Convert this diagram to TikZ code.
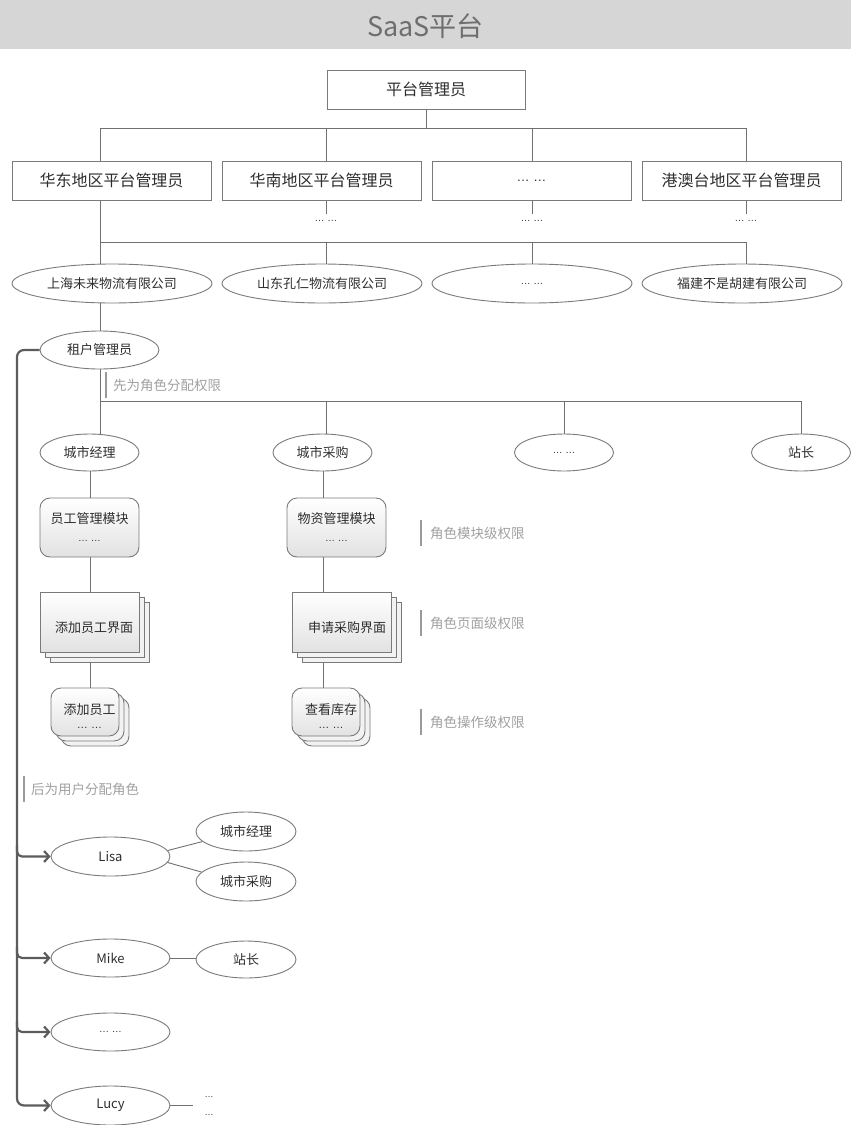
\documentclass[tikz,border=0pt]{standalone}
\usepackage{fontspec}
\setmainfont{Noto Sans CJK SC}
\newfontfamily\dotf{Liberation Sans}
\usetikzlibrary{shapes.geometric,arrows.meta}
\definecolor{hdr}{HTML}{D6D6D6}
\definecolor{ttl}{HTML}{6E6E6E}
\definecolor{linec}{HTML}{707070}
\definecolor{boxc}{HTML}{7A7A7A}
\definecolor{notec}{HTML}{A0A0A0}
\definecolor{barc}{HTML}{9A9A9A}
\definecolor{arrc}{HTML}{5C5C5C}
\definecolor{txtc}{HTML}{2E2E2E}
\definecolor{shd}{HTML}{E2E2E2}
\definecolor{backc}{HTML}{F2F2F2}
\newcommand{\fs}[1]{\fontsize{#1}{#1}\selectfont}
\newcommand{\dts}[1]{{\dotf\fontsize{#1}{#1}\selectfont … …}}
\tikzset{
  conn/.style={draw=linec, line width=0.9pt},
  rbox/.style={rectangle, draw=boxc, line width=1pt, minimum width=199pt, minimum height=39pt, inner sep=0pt, text=txtc, font=\fs{16}},
  ell/.style={ellipse, draw=boxc, line width=0.9pt, inner sep=0pt, text=txtc, font=\fs{13}},
  modbox/.style={rectangle, rounded corners=10pt, draw=boxc, line width=0.9pt, top color=white, bottom color=shd, minimum width=99pt, minimum height=59pt, inner sep=0pt},
  pagebox/.style={rectangle, draw=boxc, line width=0.9pt, top color=white, bottom color=shd, minimum width=99pt, minimum height=60pt, inner sep=0pt},
  opbox/.style={rectangle, rounded corners=10pt, draw=boxc, line width=0.9pt, top color=white, bottom color=shd, minimum width=68pt, minimum height=48pt, inner sep=0pt},
  backbox/.style={draw=boxc, line width=0.9pt, fill=backc},
  lbl/.style={text=txtc, font=\fs{13}, inner sep=0pt},
  note/.style={text=notec, font=\fs{13.5}, anchor=west, inner sep=0pt},
  bar/.style={draw=barc, line width=2pt},
  arrowline/.style={draw=arrc, line width=2.2pt, -{Straight Barb[length=5pt,width=11pt]}},
}
\begin{document}
\begin{tikzpicture}[x=1pt,y=-1pt]
\useasboundingbox (0,0) rectangle (851,1125);
\fill[hdr] (0,0) rectangle (851,49);
\node[text=ttl, font=\fs{27}, inner sep=0pt] (title) at (425.5,26) {SaaS平台};

% top level
\node[rbox, minimum width=198pt] (top) at (426,89.5) {平台管理员};
\node[rbox] (b1) at (111.5,180.5) {华东地区平台管理员};
\node[rbox] (b2) at (321.5,180.5) {华南地区平台管理员};
\node[rbox] (b3) at (531.5,180.5) {\dts{13}};
\node[rbox] (b4) at (741.5,180.5) {港澳台地区平台管理员};

\coordinate (x100) at (100,0);
\coordinate (x326) at (326,0);
\coordinate (x532) at (532,0);
\coordinate (x746) at (746,0);
\coordinate (x323) at (323,0);
\coordinate (x90) at (90,0);

\coordinate (busA) at (426,128);
\draw[conn] (top.south) -- (busA);
\draw[conn] (100,128) -- (746,128);
\draw[conn] (100,128) -- (b1.north -| x100);
\draw[conn] (326,128) -- (b2.north -| x326);
\draw[conn] (532,128) -- (b3.north -| x532);
\draw[conn] (746,128) -- (b4.north -| x746);

% dots under boxes
\node[lbl] (d2) at (326,221) {\dts{10}};
\node[lbl] (d3) at (532,221) {\dts{10}};
\node[lbl] (d4) at (746,221) {\dts{10}};
\draw[conn] (b2.south -| x326) -- (326,214);
\draw[conn] (b3.south -| x532) -- (532,214);
\draw[conn] (b4.south -| x746) -- (746,214);

% companies
\node[ell, minimum width=200pt, minimum height=39pt] (e1) at (112,283.5) {上海未来物流有限公司};
\node[ell, minimum width=200pt, minimum height=39pt] (e2) at (322,283.5) {山东孔仁物流有限公司};
\node[ell, minimum width=200pt, minimum height=39pt] (e3) at (532,283.5) {\dts{10}};
\node[ell, minimum width=200pt, minimum height=39pt] (e4) at (742,283.5) {福建不是胡建有限公司};
\draw[conn] (b1.south -| x100) -- (100,242);
\draw[conn] (100,242) -- (746,242);
\draw[conn] (100,242) -- (e1.north -| x100);
\draw[conn] (326,242) -- (e2.north -| x326);
\draw[conn] (532,242) -- (e3.north -| x532);
\draw[conn] (746,242) -- (e4.north -| x746);

% tenant admin
\node[ell, minimum width=119pt, minimum height=38pt] (ten) at (99.5,350) {租户管理员};
\draw[conn] (e1.south -| x100) -- (ten.north -| x100);

\draw[bar] (106,372) -- (106,398);
\node[note] (n0) at (113,385) {先为角色分配权限};

% roles
\node[ell, minimum width=99pt, minimum height=37pt] (r1) at (89.5,452.5) {城市经理};
\node[ell, minimum width=99pt, minimum height=37pt] (r2) at (322.5,452.5) {城市采购};
\node[ell, minimum width=99pt, minimum height=37pt] (r3) at (564,452.5) {\dts{10}};
\node[ell, minimum width=99pt, minimum height=37pt] (r4) at (801,452.5) {站长};
\draw[conn] (ten.south -| x100) -- (100,401);
\draw[conn] (100,401) -- (801,401);
\draw[conn] (100,401) -- (r1.north -| x100);
\draw[conn] (326,401) -- (r2.north -| x326);
\draw[conn] (564,401) -- (r3.north);
\draw[conn] (801,401) -- (r4.north);

% connectors of the permission chains (drawn first, under the boxes)
\coordinate (c1a) at (90,470);
\coordinate (c1b) at (90,700);
\coordinate (c2a) at (323,470);
\coordinate (c2b) at (323,700);
\draw[conn] (r1.south -| x90) -- (c1b);
\draw[conn] (r2.south -| x323) -- (c2b);

% modules
\node[modbox] (m1) at (89.5,527.5) {};
\node[lbl] (m1t) at (89.5,519) {员工管理模块};
\node[lbl] (m1d) at (89.5,541) {\dts{10}};
\node[modbox] (m2) at (336.5,527.5) {};
\node[lbl] (m2t) at (336.5,519) {物资管理模块};
\node[lbl] (m2d) at (336.5,541) {\dts{10}};

% pages
\draw[backbox] (50,602) rectangle (149,662);
\draw[backbox] (45,597) rectangle (144,657);
\node[pagebox] (p1) at (89.5,622) {};
\node[lbl] (p1t) at (94,628) {添加员工界面};
\draw[backbox] (302,602) rectangle (401,662);
\draw[backbox] (297,597) rectangle (396,657);
\node[pagebox] (p2) at (342,622) {};
\node[lbl] (p2t) at (347,628) {申请采购界面};

% operations
\draw[backbox, rounded corners=10pt] (61,698) rectangle (129,746);
\draw[backbox, rounded corners=10pt] (56,693) rectangle (124,741);
\node[opbox] (q1) at (85,712) {};
\node[lbl] (q1t) at (89.5,710) {添加员工};
\node[lbl] (q1d) at (89.5,728) {\dts{11}};
\draw[backbox, rounded corners=10pt] (302,698) rectangle (370,746);
\draw[backbox, rounded corners=10pt] (297,693) rectangle (365,741);
\node[opbox] (q2) at (326,712) {};
\node[lbl] (q2t) at (331,710) {查看库存};
\node[lbl] (q2d) at (331,728) {\dts{11}};

% right notes
\draw[bar] (421,520) -- (421,546);
\node[note] (n1) at (430,533) {角色模块级权限};
\draw[bar] (421,610) -- (421,636);
\node[note] (n2) at (430,623) {角色页面级权限};
\draw[bar] (421,709) -- (421,735);
\node[note] (n3) at (430,722) {角色操作级权限};

% users
\draw[bar] (24,776) -- (24,802);
\node[note] (n4) at (31,789) {后为用户分配角色};

\node[ell, minimum width=119pt, minimum height=39pt] (lisa) at (110.5,856.5) {Lisa};
\node[ell, minimum width=119pt, minimum height=38pt] (mike) at (110.5,958) {Mike};
\node[ell, minimum width=119pt, minimum height=38pt] (udots) at (110.5,1032) {\dts{10}};
\node[ell, minimum width=119pt, minimum height=39pt] (lucy) at (110.5,1105.5) {Lucy};

\node[ell, minimum width=100pt, minimum height=39pt] (lr1) at (246,831.5) {城市经理};
\node[ell, minimum width=100pt, minimum height=39pt] (lr2) at (246,881.5) {城市采购};
\node[ell, minimum width=100pt, minimum height=37pt] (ms) at (246,959.5) {站长};
\draw[conn] (lisa.6) -- (lr1.193);
\draw[conn] (lisa.-6) -- (lr2.168);
\draw[conn] (mike.east) -- (ms.west |- mike.east);
\coordinate (lucyend) at (193,1105.5);
\draw[conn] (lucy.east) -- (lucyend);
\node[lbl] (ld1) at (209,1097) {{\dotf\fs{9}…}};
\node[lbl] (ld2) at (209,1115) {{\dotf\fs{9}…}};

% left arrow bus
\draw[arrowline, rounded corners=7pt] (ten.west) -- (17,350) -- (17,1105.5) -- (lucy.west);
\draw[arrowline, rounded corners=5pt] (17,845) -- (17,856.5) -- (lisa.west);
\draw[arrowline, rounded corners=5pt] (17,947) -- (17,958) -- (mike.west);
\draw[arrowline, rounded corners=5pt] (17,1021) -- (17,1032) -- (udots.west);
\end{tikzpicture}
\end{document}
